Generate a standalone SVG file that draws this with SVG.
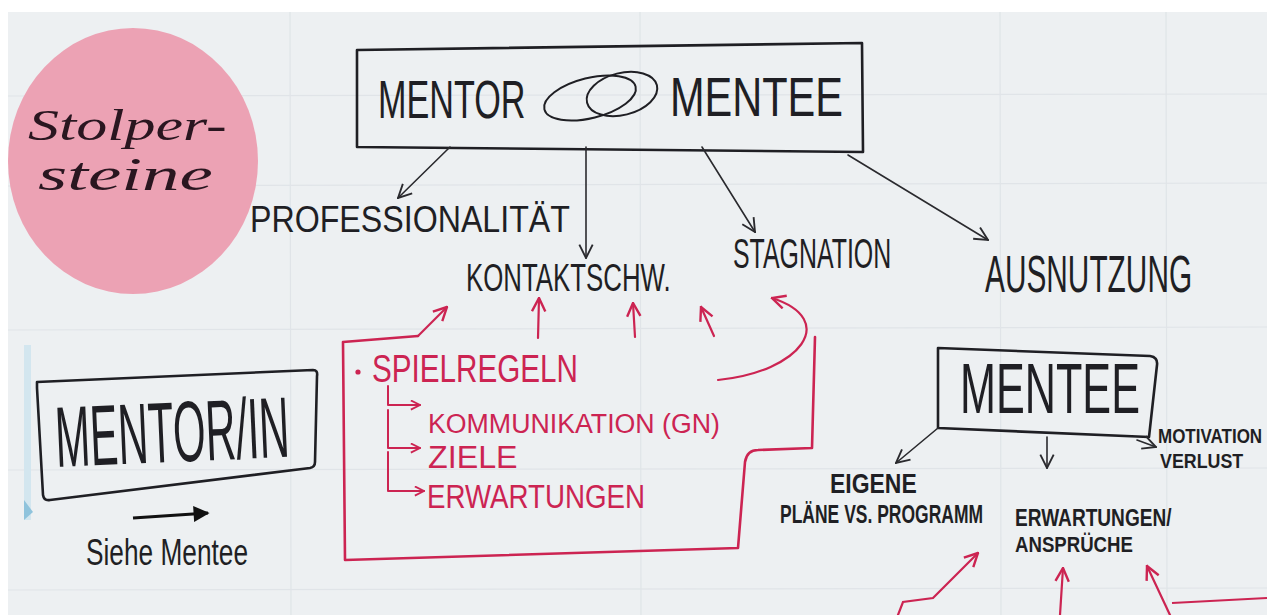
<svg xmlns="http://www.w3.org/2000/svg" width="1267" height="615" viewBox="0 0 1267 615">
<style>
.ink{fill:#1f1f24;font-family:"Liberation Sans","DejaVu Sans",sans-serif}
.bold{font-weight:bold}
.red{fill:#cc2452;font-family:"Liberation Sans","DejaVu Sans",sans-serif}
.script{fill:#2a1620;font-family:"Liberation Serif","DejaVu Serif",serif;font-style:italic}
.box{fill:none;stroke:#1f1f24;stroke-width:2.6;stroke-linejoin:round;stroke-linecap:round}
.rbox{fill:none;stroke:#cc2452;stroke-width:2.6;stroke-linejoin:round;stroke-linecap:round}
.ca{fill:none;stroke:#2a2a2e;stroke-width:1.6;stroke-linecap:round;marker-end:url(#ab)}
.cr{fill:none;stroke:#cc2452;stroke-width:2.2;stroke-linecap:round;marker-end:url(#ar)}
.crs{fill:none;stroke:#cc2452;stroke-width:2;stroke-linecap:round;stroke-linejoin:round;marker-end:url(#ars)}
.grid{stroke:#e0e4e8;stroke-width:1.2}
</style>
<defs>
<marker id="ab" viewBox="0 0 12 12" refX="11" refY="6" markerWidth="16" markerHeight="16" markerUnits="userSpaceOnUse" orient="auto"><path d="M1,1 L11,6 L1,11" fill="none" stroke="#2a2a2e" stroke-width="1.4"/></marker>
<marker id="ar" viewBox="0 0 12 12" refX="11" refY="6" markerWidth="16" markerHeight="16" markerUnits="userSpaceOnUse" orient="auto"><path d="M1,1 L11,6 L1,11" fill="none" stroke="#cc2452" stroke-width="1.8"/></marker>
<marker id="ars" viewBox="0 0 12 12" refX="11" refY="6" markerWidth="11" markerHeight="11" markerUnits="userSpaceOnUse" orient="auto"><path d="M1,1 L11,6 L1,11" fill="none" stroke="#cc2452" stroke-width="2"/></marker>
<marker id="af" viewBox="0 0 10 10" refX="9" refY="5" markerWidth="22" markerHeight="16" markerUnits="userSpaceOnUse" orient="auto"><path d="M0,0 L10,5 L0,10 Z" fill="#111"/></marker>
</defs>
<rect width="1267" height="615" fill="#ffffff"/>
<rect x="8" y="12" width="1259" height="603" fill="#edf0f2"/>
<g id="grid">
<line class="grid" x1="8" y1="96" x2="1267" y2="94"/>
<line class="grid" x1="8" y1="186" x2="1267" y2="183"/>
<line class="grid" x1="8" y1="330" x2="1267" y2="327"/>
<line class="grid" x1="8" y1="470" x2="1267" y2="468"/>
<line class="grid" x1="8" y1="590" x2="1267" y2="588"/>
<line class="grid" x1="290" y1="12" x2="291" y2="615"/>
<line class="grid" x1="640" y1="12" x2="641" y2="615"/>
<line class="grid" x1="1000" y1="12" x2="1001" y2="615"/>
<line class="grid" x1="1166" y1="12" x2="1167" y2="615"/>
</g>
<rect x="24" y="345" width="7" height="175" fill="#d3e6ef"/>
<path d="M24,500 L33,512 L24,520 Z" fill="#8fc3dc"/>

<g id="stolpersteine">
<ellipse cx="133" cy="161" rx="125" ry="133" fill="#eca2b4"/>
<text class="script" transform="translate(28,140) scale(1.41,1)" font-size="44">Stolper-</text>
<text class="script" transform="translate(38,190) scale(1.63,1)" font-size="46">steine</text>
</g>

<g id="mentor-mentee">
<path class="box" d="M357,50 L862,43 L863,152 L357,147 Z"/>
<text class="ink" transform="translate(378,118) scale(0.645,1)" font-size="53">MENTOR</text>
<ellipse cx="590" cy="98" rx="47" ry="20" transform="rotate(-14 590 98)" fill="none" stroke="#1f1f24" stroke-width="2"/>
<ellipse cx="622" cy="94" rx="36" ry="21" transform="rotate(-14 622 94)" fill="none" stroke="#1f1f24" stroke-width="2"/>
<text class="ink" transform="translate(670,116) scale(0.755,1)" font-size="55">MENTEE</text>
</g>

<g id="professionalitaet"><text class="ink" transform="translate(250,232) scale(0.894,1)" font-size="36">PROFESSIONALITÄT</text></g>
<g id="kontaktschw"><text class="ink" transform="translate(466,291) scale(0.68,1)" font-size="38">KONTAKTSCHW.</text></g>
<g id="stagnation"><text class="ink" transform="translate(733,268) scale(0.593,1)" font-size="42">STAGNATION</text></g>
<g id="ausnutzung"><text class="ink" transform="translate(985,292) scale(0.585,1)" font-size="51">AUSNUTZUNG</text></g>

<g id="mentor-in">
<path class="box" d="M37,382 L313,370 Q318,370 317,376 L315,462 Q315,467 310,468 L50,500 Q44,501 43,495 L37,388 Z"/>
<text class="ink" transform="rotate(-2.5 170 430) translate(55,462) scale(0.487,1)" font-size="86">MENTOR/IN</text>
</g>
<g id="siehe-mentee"><text class="ink" transform="translate(86,565) scale(0.71,1)" font-size="37">Siehe Mentee</text></g>

<g id="spielregeln">
<path class="rbox" d="M418,336 L343,342 L345,560 L738,548 L745,462 Q747,450 758,450 L812,448 L815,337"/>
<circle cx="358" cy="372" r="2.6" fill="#cc2452"/>
<text class="red" transform="translate(372,382) scale(0.78,1)" font-size="38">SPIELREGELN</text>
<text class="red" transform="translate(428,433) scale(0.955,1)" font-size="28">KOMMUNIKATION (GN)</text>
<text class="red" transform="translate(428,468) scale(1.04,1)" font-size="31">ZIELE</text>
<text class="red" transform="translate(427,508) scale(0.815,1)" font-size="34">ERWARTUNGEN</text>
</g>

<g id="mentee">
<path class="box" d="M938,348 L1150,356 Q1158,357 1157,365 L1149,437 L938,428 Z"/>
<text class="ink" transform="translate(960,413) scale(0.617,1)" font-size="70">MENTEE</text>
</g>
<g id="motivationsverlust">
<text class="ink bold" transform="translate(1158,443) scale(0.85,1)" font-size="20">MOTIVATION</text>
<text class="ink bold" transform="translate(1160,468) scale(0.85,1)" font-size="21">VERLUST</text>
</g>
<g id="eigene-plaene">
<text class="ink bold" transform="translate(830,493) scale(0.82,1)" font-size="28">EIGENE</text>
<text class="ink bold" transform="translate(780,523) scale(0.7,1)" font-size="25">PLÄNE VS. PROGRAMM</text>
</g>
<g id="erwartungen-ansprueche">
<text class="ink bold" transform="translate(1015,526) scale(0.83,1)" font-size="23">ERWARTUNGEN/</text>
<text class="ink bold" transform="translate(1015,552) scale(0.81,1)" font-size="23">ANSPRÜCHE</text>
</g>

<g id="connectors">
<path class="ca" d="M450,147 L398,198"/>
<path class="ca" d="M586,147 L586,258"/>
<path class="ca" d="M702,147 L755,232"/>
<path class="ca" d="M848,155 L988,240"/>
<path class="ca" d="M938,428 L896,463"/>
<path class="ca" d="M1047,437 L1047,468"/>
<path class="ca" d="M1137,440 L1156,447"/>
<path d="M133,518 L208,513" fill="none" stroke="#111" stroke-width="3" marker-end="url(#af)"/>
<path class="cr" d="M418,336 L447,307"/>
<path class="cr" d="M538,338 L539,298"/>
<path class="cr" d="M635,337 L633,303"/>
<path class="cr" d="M714,336 L701,307"/>
<path class="cr" d="M718,380 C800,372 840,320 772,298"/>
<path class="crs" d="M388,386 L388,405 L420,405"/>
<path class="crs" d="M388,410 L388,448 L420,448"/>
<path class="crs" d="M388,452 L388,491 L424,491"/>
<path class="cr" d="M898,615 L903,602 L933,598 L978,553"/>
<path class="cr" d="M1060,615 L1063,568"/>
<path class="cr" d="M1170,615 L1147,566"/>
<path d="M1172,603 L1267,598" fill="none" stroke="#cc2452" stroke-width="2.2"/>
</g>
</svg>
